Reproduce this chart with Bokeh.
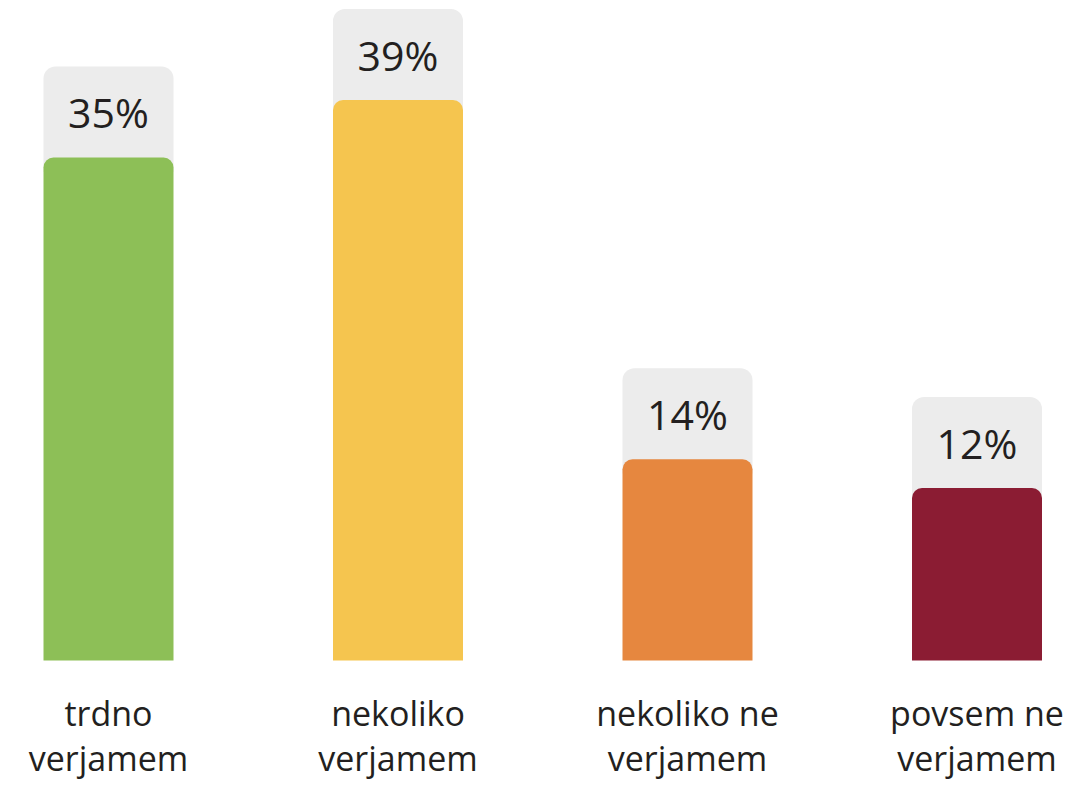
from bokeh.plotting import figure
from bokeh.models import ColumnDataSource, Range1d
from bokeh.core.properties import value
from bokeh.embed import file_html
from bokeh.resources import INLINE

categories = ["trdno\nverjamem", "nekoliko\nverjamem", "nekoliko ne\nverjamem", "povsem ne\nverjamem"]
values = [35, 39, 14, 12]
labels = ["35%", "39%", "14%", "12%"]
colors = ["#8DBF57", "#F5C54F", "#E6873F", "#8B1C33"]

px_per_unit = 289.5
W, H = 1079, 781
x_start = -108 / px_per_unit
px_per_pct = 14.37
base_px = 660
y_end = base_px / px_per_pct
y_start = y_end - H / px_per_pct
box_h = 91 / px_per_pct

def py(pixel):
    return (base_px - pixel) / px_per_pct

xs = list(range(len(values)))
line1 = [c.split("\n")[0] for c in categories]
line2 = [c.split("\n")[1] for c in categories]
src = ColumnDataSource(dict(
    x=xs,
    v=values,
    box_bottom=[v - 1.0 for v in values],
    box_top=[v + box_h for v in values],
    label_y=[v + box_h / 2 for v in values],
    lab=labels,
    l1=line1,
    l2=line2,
    l1_y=[py(712)] * len(values),
    l2_y=[py(757)] * len(values),
    color=colors,
))

p = figure(width=W, height=H, output_backend="svg", toolbar_location=None,
           x_range=Range1d(x_start, x_start + W / px_per_unit),
           y_range=Range1d(y_start, y_end), min_border=0,
           outline_line_color=None)
p.axis.visible = False
p.grid.visible = False
p.background_fill_color = "white"

bw = 130 / px_per_unit
p.vbar(x="x", bottom="box_bottom", top="box_top", width=bw, source=src,
       fill_color="#ECECEC", line_color=None, border_radius=[12, 12, 0, 0])
p.vbar(x="x", bottom=0, top="v", width=bw, source=src,
       fill_color="color", line_color=None, border_radius=[10, 10, 0, 0])
p.text(x="x", y="label_y", text="lab", source=src, text_align="center",
       text_baseline="middle", text_font=value("Open Sans"),
       text_font_size="41px", text_color="#231F20")
for col, ycol in (("l1", "l1_y"), ("l2", "l2_y")):
    p.text(x="x", y=ycol, text=col, source=src, text_align="center",
           text_baseline="middle", text_font=value("Open Sans"),
           text_font_size="34px", text_color="#231F20")

open("out.html", "w").write(file_html(p, INLINE))
